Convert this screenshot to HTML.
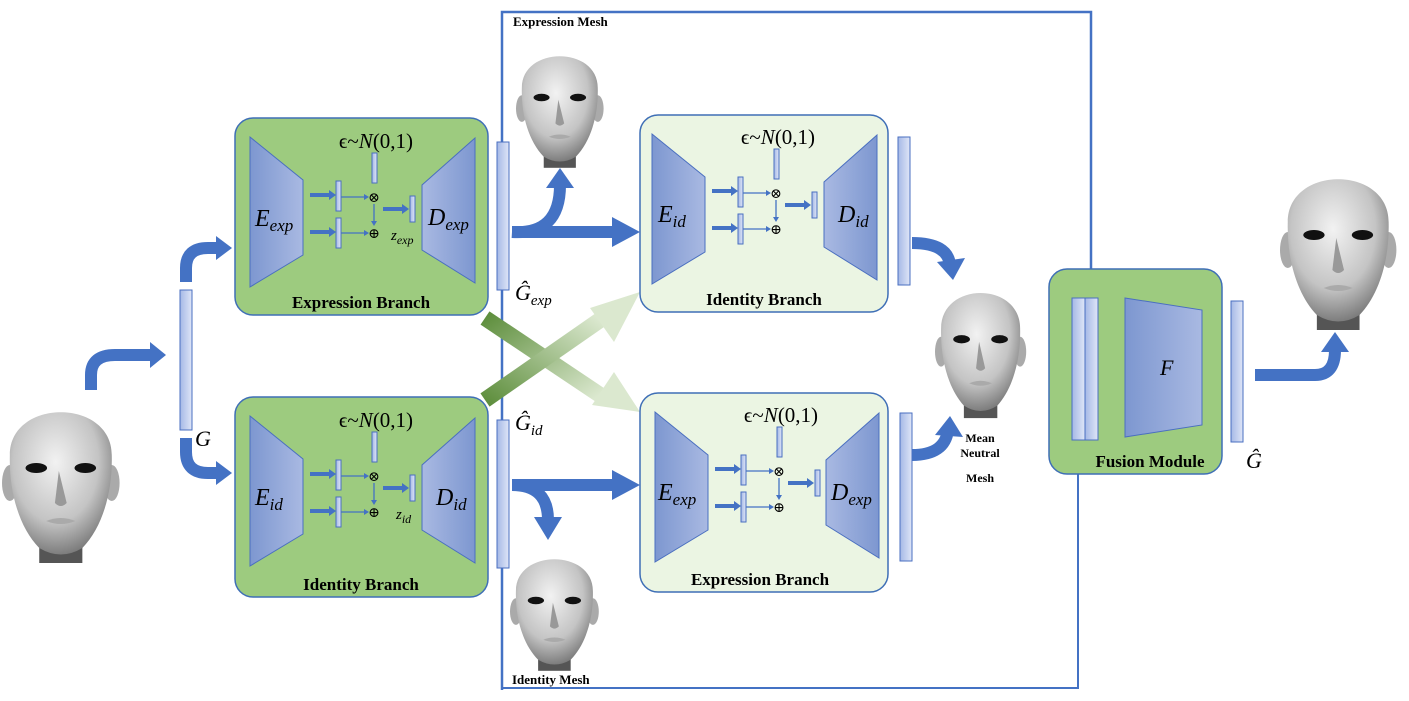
<!DOCTYPE html>
<html><head><meta charset="utf-8"><style>
html,body{margin:0;padding:0;background:#fff;}
svg{display:block}
text{font-family:"Liberation Serif","DejaVu Serif",serif;}
.it{font-style:italic;}
.lbl{font-weight:bold;font-size:17px;}
</style></head><body>
<svg width="1409" height="701" viewBox="0 0 1409 701" xmlns="http://www.w3.org/2000/svg">
<defs>
<linearGradient id="trL" x1="0" x2="1"><stop offset="0" stop-color="#7d97d0"/><stop offset="1" stop-color="#a9b9e2"/></linearGradient>
<linearGradient id="trR" x1="1" x2="0"><stop offset="0" stop-color="#7d97d0"/><stop offset="1" stop-color="#a9b9e2"/></linearGradient>
<linearGradient id="bar" x1="0" x2="1"><stop offset="0" stop-color="#a5b8e6"/><stop offset="1" stop-color="#dfe6f7"/></linearGradient>
<radialGradient id="skin" cx="0.45" cy="0.35" r="0.7"><stop offset="0" stop-color="#f2f2f2"/><stop offset="0.6" stop-color="#c4c4c4"/><stop offset="1" stop-color="#6e6e6e"/></radialGradient>
<linearGradient id="g1" x1="0" y1="0" x2="1" y2="1"><stop offset="0" stop-color="#5f8f3e"/><stop offset="1" stop-color="#dbe8cf"/></linearGradient>
<linearGradient id="g2" x1="0" y1="1" x2="1" y2="0"><stop offset="0" stop-color="#5f8f3e"/><stop offset="1" stop-color="#dbe8cf"/></linearGradient>
<g id="face">
<rect x="38" y="130" width="44" height="40" fill="#555"/>
<ellipse cx="8" cy="90" rx="8" ry="18" fill="#aaa"/>
<ellipse cx="112" cy="90" rx="8" ry="18" fill="#aaa"/>
<path d="M8,62 C8,5 112,5 112,62 C113,100 102,135 82,155 Q60,168 38,155 C18,135 7,100 8,62 Z" fill="url(#skin)"/>
<ellipse cx="35" cy="75" rx="11" ry="5" fill="#111"/>
<ellipse cx="85" cy="75" rx="11" ry="5" fill="#111"/>
<path d="M58,78 L54,110 Q60,116 66,110 Z" fill="#999"/>
<path d="M45,128 Q60,122 75,128 Q60,134 45,128 Z" fill="#aaa"/>
</g>
<g id="enc">
<polygon points="0,0 53,43 53,118 0,150" fill="url(#trL)" stroke="#4a6fc0"/>
</g>
<g id="dec">
<polygon points="53,0 0,47 0,112 53,145" fill="url(#trR)" stroke="#4a6fc0"/>
</g>
<g id="inner">
<path d="M310,195 H330 M310,232 H330" stroke="#4472c4" stroke-width="4"/>
<polygon points="329,190 336,195 329,200" fill="#4472c4"/>
<polygon points="329,227 336,232 329,237" fill="#4472c4"/>
<rect x="336" y="181" width="5" height="30" fill="url(#bar)" stroke="#4a6fc0"/>
<rect x="336" y="218" width="5" height="30" fill="url(#bar)" stroke="#4a6fc0"/>
<rect x="372" y="153" width="5" height="30" fill="url(#bar)" stroke="#4a6fc0"/>
<path d="M341,197 H365 M341,233 H365 M374,204 V222" stroke="#4472c4" stroke-width="1.3"/>
<polygon points="364,194 369,197 364,200" fill="#4472c4"/>
<polygon points="364,230 369,233 364,236" fill="#4472c4"/>
<polygon points="371,221 374,226 377,221" fill="#4472c4"/>
<text x="374" y="202" font-size="14" text-anchor="middle" font-family="DejaVu Sans">⊗</text>
<text x="374" y="238" font-size="14" text-anchor="middle" font-family="DejaVu Sans">⊕</text>
<path d="M383,209 H403" stroke="#4472c4" stroke-width="4"/>
<polygon points="402,204 409,209 402,214" fill="#4472c4"/>
<rect x="410" y="196" width="5" height="26" fill="url(#bar)" stroke="#4a6fc0"/>
<text x="376" y="148" font-size="21" text-anchor="middle">ϵ~<tspan class="it">N</tspan>(0,1)</text>
</g>
</defs>

<!-- big blue frame -->
<path d="M502,690 V12 H1091 V298" fill="none" stroke="#4472c4" stroke-width="2.5"/>
<polygon points="1086,288 1091,298 1096,288" fill="#4472c4"/>
<path d="M502,688 H1078 V442" fill="none" stroke="#4472c4" stroke-width="2"/>
<polygon points="1073,451 1078,441 1083,451" fill="#4472c4"/>
<text x="513" y="26" font-size="13" font-weight="bold">Expression Mesh</text>
<text x="512" y="684" font-size="13" font-weight="bold">Identity Mesh</text>

<!-- faces -->
<use href="#face" transform="translate(2,393) scale(0.98,1)"/>
<use href="#face" transform="translate(516,42) scale(0.73,0.74)"/>
<use href="#face" transform="translate(935,277) scale(0.76,0.83)"/>
<use href="#face" transform="translate(510,545) scale(0.74,0.74)"/>
<use href="#face" transform="translate(1280,160) scale(0.97,1)"/>

<!-- cross arrows -->
<path d="M485,318 L600,395" stroke="url(#g1)" stroke-width="16"/>
<polygon points="592,405 640,412 614,372" fill="#dbe8cf"/>
<path d="M485,400 L600,320" stroke="url(#g2)" stroke-width="16"/>
<polygon points="590,308 640,292 614,342" fill="#dbe8cf"/>

<!-- branch boxes -->
<rect x="235" y="118" width="253" height="197" rx="18" fill="#9dcb7f" stroke="#3f6fb6" stroke-width="1.5"/>
<rect x="235" y="397" width="253" height="200" rx="18" fill="#9dcb7f" stroke="#3f6fb6" stroke-width="1.5"/>
<rect x="640" y="115" width="248" height="197" rx="18" fill="#ebf5e3" stroke="#3f6fb6" stroke-width="1.5"/>
<rect x="640" y="393" width="248" height="199" rx="18" fill="#ebf5e3" stroke="#3f6fb6" stroke-width="1.5"/>
<rect x="1049" y="269" width="173" height="205" rx="18" fill="#9dcb7f" stroke="#3f6fb6" stroke-width="1.5"/>

<!-- expression branch top-left -->
<use href="#enc" transform="translate(250,137)"/>
<use href="#dec" transform="translate(422,138)"/>
<use href="#inner"/>
<text x="255" y="226" font-size="24" class="it">E<tspan font-size="17" dy="5">exp</tspan></text>
<text x="428" y="225" font-size="24" class="it">D<tspan font-size="17" dy="5">exp</tspan></text>
<text x="391" y="240" font-size="15" class="it">z<tspan font-size="12" dy="4">exp</tspan></text>
<text x="361" y="308" class="lbl" text-anchor="middle">Expression Branch</text>

<!-- identity branch bottom-left -->
<use href="#enc" transform="translate(250,416)"/>
<use href="#dec" transform="translate(422,418)"/>
<use href="#inner" transform="translate(0,279)"/>
<text x="255" y="505" font-size="24" class="it">E<tspan font-size="17" dy="5">id</tspan></text>
<text x="436" y="505" font-size="24" class="it">D<tspan font-size="17" dy="5">id</tspan></text>
<text x="396" y="519" font-size="15" class="it">z<tspan font-size="12" dy="4">id</tspan></text>
<text x="361" y="590" class="lbl" text-anchor="middle">Identity Branch</text>

<!-- identity branch top-right -->
<use href="#enc" transform="translate(652,134)"/>
<use href="#dec" transform="translate(824,135)"/>
<use href="#inner" transform="translate(402,-4)"/>
<text x="658" y="222" font-size="24" class="it">E<tspan font-size="17" dy="5">id</tspan></text>
<text x="838" y="222" font-size="24" class="it">D<tspan font-size="17" dy="5">id</tspan></text>
<text x="764" y="305" class="lbl" text-anchor="middle">Identity Branch</text>

<!-- expression branch bottom-right -->
<use href="#enc" transform="translate(655,412)"/>
<use href="#dec" transform="translate(826,413)"/>
<use href="#inner" transform="translate(405,274)"/>
<text x="658" y="500" font-size="24" class="it">E<tspan font-size="17" dy="5">exp</tspan></text>
<text x="831" y="500" font-size="24" class="it">D<tspan font-size="17" dy="5">exp</tspan></text>
<text x="760" y="585" class="lbl" text-anchor="middle">Expression Branch</text>

<!-- bars -->
<rect x="180" y="290" width="12" height="140" fill="url(#bar)" stroke="#4a6fc0"/>
<rect x="497" y="142" width="12" height="148" fill="url(#bar)" stroke="#4a6fc0"/>
<rect x="497" y="420" width="12" height="148" fill="url(#bar)" stroke="#4a6fc0"/>
<rect x="898" y="137" width="12" height="148" fill="url(#bar)" stroke="#4a6fc0"/>
<rect x="900" y="413" width="12" height="148" fill="url(#bar)" stroke="#4a6fc0"/>
<rect x="1072" y="298" width="13" height="142" fill="url(#bar)" stroke="#4a6fc0"/>
<rect x="1085" y="298" width="13" height="142" fill="url(#bar)" stroke="#4a6fc0"/>
<polygon points="1125,298 1202,310 1202,425 1125,437" fill="url(#trL)" stroke="#4a6fc0"/>
<text x="1160" y="375" font-size="22" class="it">F</text>
<rect x="1231" y="301" width="12" height="141" fill="url(#bar)" stroke="#4a6fc0"/>
<text x="1150" y="467" class="lbl" text-anchor="middle">Fusion Module</text>

<!-- math labels -->
<text x="195" y="446" font-size="22" class="it">G</text>
<text x="515" y="300" font-size="22" class="it">Ĝ<tspan font-size="15" dy="5">exp</tspan></text>
<text x="515" y="430" font-size="22" class="it">Ĝ<tspan font-size="15" dy="5">id</tspan></text>
<text x="1246" y="468" font-size="22" class="it">Ĝ</text>
<text x="980" y="442" font-size="12" font-weight="bold" text-anchor="middle">Mean</text>
<text x="980" y="457" font-size="12" font-weight="bold" text-anchor="middle">Neutral</text>
<text x="980" y="482" font-size="12" font-weight="bold" text-anchor="middle">Mesh</text>

<!-- blue arrows -->
<g fill="none" stroke="#4472c4" stroke-width="12">
<path d="M91,390 V375 Q91,355 115,355 H152"/>
<path d="M186,282 V268 Q186,248 208,248 H218"/>
<path d="M186,438 V452 Q186,473 208,473 H218"/>
<path d="M512,232 Q560,235 560,185"/>
<path d="M512,232 H615"/>
<path d="M512,485 H615"/>
<path d="M512,485 Q548,485 548,520"/>
<path d="M912,243 Q948,243 950,265"/>
<path d="M912,455 Q945,455 948,430"/>
<path d="M1255,375 H1315 Q1335,375 1335,350"/>
</g>
<g fill="#4472c4">
<polygon points="150,342 166,355 150,368"/>
<polygon points="216,236 232,248 216,260"/>
<polygon points="216,461 232,473 216,485"/>
<polygon points="546,188 560,168 574,188"/>
<polygon points="612,217 640,232 612,247"/>
<polygon points="612,470 640,485 612,500"/>
<polygon points="534,517 548,540 562,517"/>
<polygon points="937,262 953,280 965,258"/>
<polygon points="935,435 950,416 963,437"/>
<polygon points="1321,352 1335,332 1349,352"/>
</g>
</svg>
</body></html>
